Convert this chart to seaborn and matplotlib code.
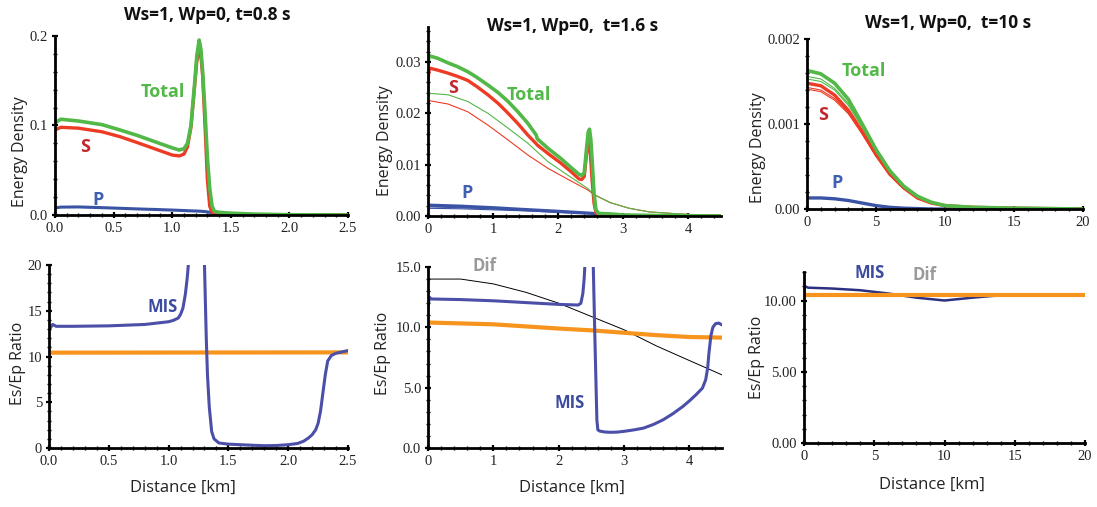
import numpy as np
import pandas as pd
import matplotlib
matplotlib.use("Agg")
import matplotlib.pyplot as plt
from matplotlib.ticker import FixedLocator, MultipleLocator, FormatStrFormatter
import seaborn as sns

# ---------------- data ----------------
# t = 0.8 s energy density
t08_x = [0, 0.05, 0.2, 0.4, 0.555, 0.7, 0.85, 1.0, 1.06, 1.1, 1.13, 1.16, 1.19, 1.21,
         1.23, 1.245, 1.26, 1.28, 1.30, 1.32, 1.34, 1.36, 1.4, 1.5, 1.7, 2.0, 2.5]
t08_total = [0.103, 0.107, 0.105, 0.101, 0.095, 0.089, 0.082, 0.075, 0.0726, 0.074,
             0.080, 0.100, 0.145, 0.178, 0.1955, 0.185, 0.160, 0.115, 0.065, 0.030,
             0.010, 0.004, 0.003, 0.002, 0.001, 0.0003, 0.0]
t08_s = [0.095, 0.098, 0.097, 0.093, 0.0875, 0.081, 0.074, 0.067, 0.066, 0.068,
         0.076, 0.098, 0.142, 0.172, 0.183, 0.178, 0.155, 0.100, 0.040, 0.010,
         0.003, 0.001, 0.0005, 0.0, 0.0, 0.0, 0.0]
t08_p = [0.008, 0.0088, 0.009, 0.0082, 0.0075, 0.0068, 0.0062, 0.0055, 0.0052, 0.005,
         0.0048, 0.0046, 0.0045, 0.0044, 0.0043, 0.0042, 0.004, 0.0038, 0.0035, 0.003,
         0.0025, 0.002, 0.0016, 0.0008, 0.0003, 0.0001, 0.0]

# t = 1.6 s energy density
t16_x = [0, 0.02, 0.15, 0.31, 0.45, 0.61, 0.75, 0.92, 1.08, 1.23, 1.38, 1.53, 1.66,
         1.68, 1.85, 2.04, 2.2, 2.32, 2.36, 2.40, 2.43, 2.46, 2.48, 2.50, 2.52, 2.55,
         2.58, 2.62, 2.8, 3.0, 3.5, 4.0, 4.5]
t16_total = [0.0300, 0.0312, 0.0307, 0.0298, 0.0291, 0.0281, 0.0270, 0.0255, 0.0240,
             0.0223, 0.0203, 0.0181, 0.0158, 0.0150, 0.0131, 0.0112, 0.0094, 0.0081,
             0.0079, 0.0084, 0.0125, 0.0163, 0.0169, 0.0150, 0.0110, 0.0044, 0.0012,
             0.0005, 0.0004, 0.0002, 0.0001, 0.00005, 0.0]
t16_s = [0.0265, 0.0288, 0.0284, 0.0278, 0.0272, 0.0264, 0.0252, 0.0236, 0.0219,
         0.0200, 0.0180, 0.0158, 0.0141, 0.0138, 0.0121, 0.0103, 0.0086, 0.0072,
         0.0071, 0.0077, 0.0115, 0.0146, 0.0146, 0.0109, 0.0070, 0.0025, 0.0006,
         0.0002, 0.0, 0.0, 0.0, 0.0, 0.0]
t16_thin_x = [0, 0.31, 0.61, 0.92, 1.23, 1.53, 1.84, 2.14, 2.45, 2.56, 2.8, 3.09,
              3.4, 3.86, 4.2, 4.5]
t16_total_thin = [0.0239, 0.0236, 0.0223, 0.0200, 0.0171, 0.0142, 0.0106, 0.0080,
                  0.0054, 0.0041, 0.0026, 0.0015, 0.0008, 0.0004, 0.0002, 0.0001]
t16_s_thin = [0.0225, 0.0218, 0.0203, 0.0177, 0.0148, 0.0119, 0.0093, 0.0072,
              0.0051, 0.0041, 0.0026, 0.0015, 0.0008, 0.0004, 0.0002, 0.0001]
t16_p_x = [0, 0.5, 1.0, 1.41, 2.0, 2.53, 2.6, 2.65]
t16_p = [0.0021, 0.0019, 0.0016, 0.0013, 0.0009, 0.0005, 0.0002, 0.0]
t16_pthin_x = [0, 0.5, 1, 1.5, 2, 2.5, 3, 3.5, 4, 4.5]
t16_p_thin1 = [0.0018, 0.0016, 0.0014, 0.0011, 0.0008, 0.0005, 0.0003, 0.0002, 0.0001, 0.00005]
t16_p_thin2 = [0.0015, 0.0014, 0.0012, 0.0010, 0.0007, 0.0005, 0.0003, 0.0002, 0.0001, 0.00005]

# t = 10 s energy density
t10_x = [0, 1, 2, 3, 4, 5, 6, 7, 8, 9, 10, 12, 15, 20]
t10_total = [0.00163, 0.00159, 0.00148, 0.00129, 0.00100, 0.00070, 0.00045, 0.00027,
             0.00015, 0.00008, 0.00004, 0.00002, 0.00001, 0.0]
t10_s = [0.00148, 0.00145, 0.00134, 0.00116, 0.00091, 0.00064, 0.00041, 0.00025,
         0.00013, 0.00007, 0.00004, 0.00002, 0.00001, 0.0]
t10_total_thin1 = [0.00156, 0.00153, 0.00142, 0.00124, 0.00097, 0.00069, 0.00044,
                   0.00027, 0.00015, 0.00008, 0.00004, 0.00002, 0.00001, 0.0]
t10_total_thin2 = [0.00153, 0.00150, 0.00140, 0.00122, 0.00096, 0.00068, 0.00044,
                   0.00027, 0.00015, 0.00008, 0.00004, 0.00002, 0.00001, 0.0]
t10_s_thin1 = [0.00143, 0.00140, 0.00130, 0.00113, 0.00089, 0.00063, 0.00040,
               0.00024, 0.00013, 0.00007, 0.00004, 0.00002, 0.00001, 0.0]
t10_s_thin2 = [0.00141, 0.00138, 0.00128, 0.00112, 0.00088, 0.00062, 0.00040,
               0.00024, 0.00013, 0.00007, 0.00004, 0.00002, 0.00001, 0.0]
t10_p = [0.00013, 0.00013, 0.00012, 0.00010, 0.00007, 0.00004, 0.00002, 0.00001,
         0.000005, 0.0, 0.0, 0.0, 0.0, 0.0]

# ratio t = 0.8 s
r08_mis1_x = [0, 0.01, 0.03, 0.06, 0.2, 0.5, 0.8, 1.0, 1.04, 1.08, 1.1, 1.12, 1.14,
              1.155, 1.165, 1.175]
r08_mis1 = [12.9, 13.1, 13.5, 13.3, 13.3, 13.35, 13.5, 13.8, 13.95, 14.2, 14.6, 15.3,
            16.8, 18.5, 20.0, 22.0]
r08_mis2_x = [1.295, 1.30, 1.315, 1.325, 1.34, 1.36, 1.38, 1.42, 1.5, 1.6, 1.7, 1.8,
              1.9, 2.0, 2.08, 2.13, 2.17, 2.2, 2.23, 2.25, 2.27, 2.29, 2.31, 2.33,
              2.36, 2.4, 2.45, 2.5]
r08_mis2 = [23.0, 20.0, 12.0, 8.0, 4.5, 1.8, 1.0, 0.55, 0.42, 0.36, 0.3, 0.25, 0.27,
            0.36, 0.5, 0.75, 1.1, 1.45, 2.0, 2.7, 4.0, 6.0, 8.0, 9.5, 10.1, 10.36,
            10.5, 10.65]
r08_orange_x = [0, 2.5]
r08_orange = [10.42, 10.45]

# ratio t = 1.6 s
r16_dif_x = [0, 0.5, 1.0, 1.5, 2.0, 2.5, 3.0, 3.5, 4.0, 4.5]
r16_dif = [14.0, 14.0, 13.6, 12.9, 12.0, 10.9, 9.8, 8.45, 7.25, 6.06]
r16_mis1_x = [0, 0.02, 0.05, 0.5, 1.0, 1.5, 2.0, 2.3, 2.34, 2.37, 2.39, 2.4, 2.42]
r16_mis1 = [11.6, 12.5, 12.35, 12.3, 12.2, 12.05, 11.9, 11.85, 12.0, 12.8, 14.0, 15.0, 17.0]
r16_mis2_x = [2.52, 2.53, 2.555, 2.585, 2.6, 2.63, 2.7, 2.8, 2.9, 3.0, 3.15, 3.3,
              3.45, 3.6, 3.75, 3.9, 4.0, 4.1, 4.2, 4.25, 4.28, 4.3, 4.33, 4.36,
              4.4, 4.45, 4.5]
r16_mis2 = [17.0, 15.0, 9.0, 2.3, 1.5, 1.4, 1.33, 1.3, 1.32, 1.38, 1.5, 1.65, 1.95,
            2.34, 2.85, 3.44, 3.9, 4.4, 4.96, 5.65, 6.6, 7.85, 9.3, 10.0, 10.3,
            10.35, 10.2]
r16_orange_x = [0, 1, 2, 2.5, 3, 3.5, 4, 4.5]
r16_orange = [10.4, 10.25, 9.9, 9.75, 9.55, 9.35, 9.2, 9.15]

# ratio t = 10 s
r10_mis_x = [0, 0.05, 0.3, 2, 4, 6, 8, 10, 12, 14, 16, 18, 20]
r10_mis = [9.0, 11.0, 10.9, 10.84, 10.72, 10.49, 10.2, 10.0, 10.2, 10.37, 10.42, 10.42, 10.42]
r10_orange_x = [0, 20]
r10_orange = [10.42, 10.42]

titles = ["Ws=1, Wp=0, t=0.8 s", "Ws=1, Wp=0,  t=1.6 s", "Ws=1, Wp=0,  t=10 s"]

# ---------------- style ----------------
sns.set_theme(style="white")
plt.rcParams["font.family"] = ["Open Sans", "DejaVu Sans"]

GREEN = "#52b847"
RED = "#ee3b24"
BLUE = "#3a53a4"
MISC = "#4b4fa8"
ORANGE = "#f7941d"
NAVY = "#2b3180"
S_LAB = "#c1272d"
P_LAB = "#3f5fb0"
MIS_LAB = "#3b4ba0"
DIF_LAB = "#9a9a9a"

W, H = 1097, 507
fig = plt.figure(figsize=(W / 100, H / 100), dpi=100)


def rect(l, r, t, b):
    return [l / W, 1 - b / H, (r - l) / W, (b - t) / H]


def line(ax, x, y, color, lw):
    sns.lineplot(x=x, y=y, ax=ax, color=color, linewidth=lw, estimator=None,
                 sort=False, legend=False)


def style(ax, xlim, ylim, xmaj, xmin, yticks, ylabels, xfmt, ymin_loc=None):
    ax.set_xlim(*xlim)
    ax.set_ylim(*ylim)
    for s in ["top", "right"]:
        ax.spines[s].set_visible(False)
    for s in ["left", "bottom"]:
        ax.spines[s].set_color("black")
        ax.spines[s].set_linewidth(2.0)
    ax.xaxis.set_major_locator(MultipleLocator(xmaj))
    ax.xaxis.set_minor_locator(MultipleLocator(xmin))
    ax.xaxis.set_major_formatter(FormatStrFormatter(xfmt))
    ax.yaxis.set_major_locator(FixedLocator(yticks))
    ax.set_yticklabels(ylabels)
    if ymin_loc:
        ax.yaxis.set_minor_locator(MultipleLocator(ymin_loc))
    ax.tick_params(axis="both", which="major", direction="inout", length=4, width=1.6,
                   color="black", labelsize=10.5, pad=3, bottom=True, left=True)
    ax.tick_params(axis="both", which="minor", direction="inout", length=2.5, width=1.0,
                   color="black", bottom=True, left=True)
    for lab in ax.get_xticklabels() + ax.get_yticklabels():
        lab.set_fontfamily("Liberation Serif")
        lab.set_color("#222222")
    ax.set_xlabel("")
    ax.set_ylabel("")
    ax.set_facecolor("white")


def label(ax, x, y, txt, color, size=13):
    ax.text(x, y, txt, color=color, fontsize=size, fontweight="bold",
            ha="center", va="center")


def ftext(x, y, txt, **kw):
    fig.text(x / W, 1 - y / H, txt, **kw)


# ---- panel 1 ----
ax1 = fig.add_axes(rect(55, 348, 36, 215))
line(ax1, t08_x, t08_p, BLUE, 2.2)
line(ax1, t08_x, t08_s, RED, 2.4)
line(ax1, t08_x, t08_total, GREEN, 2.6)
style(ax1, (0, 2.5), (0, 0.2), 0.5, 0.1, [0, 0.1, 0.2], ["0.0", "0.1", "0.2"], "%.1f", 0.02)
label(ax1, 0.92, 0.137, "Total", GREEN)
label(ax1, 0.26, 0.076, "S", S_LAB)
label(ax1, 0.37, 0.017, "P", P_LAB)

# ---- panel 2 ----
ax2 = fig.add_axes(rect(428, 721, 27, 216))
line(ax2, t16_pthin_x, t16_p_thin1, BLUE, 0.8)
line(ax2, t16_pthin_x, t16_p_thin2, BLUE, 0.8)
line(ax2, t16_p_x, t16_p, BLUE, 2.4)
line(ax2, t16_thin_x, t16_s_thin, RED, 0.8)
line(ax2, t16_thin_x, t16_total_thin, GREEN, 0.8)
line(ax2, t16_x, t16_s, RED, 2.4)
line(ax2, t16_x, t16_total, GREEN, 2.6)
style(ax2, (0, 4.5), (0, 0.0368), 1, 0.2, [0, 0.01, 0.02, 0.03],
      ["0.00", "0.01", "0.02", "0.03"], "%d", 0.002)
label(ax2, 0.38, 0.0249, "S", S_LAB)
label(ax2, 1.55, 0.0236, "Total", GREEN)
label(ax2, 0.6, 0.0045, "P", P_LAB)

# ---- panel 3 ----
ax3 = fig.add_axes(rect(807, 1083, 39, 209))
line(ax3, t10_x, t10_p, BLUE, 2.4)
line(ax3, t10_x, t10_s_thin1, RED, 0.8)
line(ax3, t10_x, t10_s_thin2, RED, 0.8)
line(ax3, t10_x, t10_total_thin1, GREEN, 0.8)
line(ax3, t10_x, t10_total_thin2, GREEN, 0.8)
line(ax3, t10_x, t10_s, RED, 2.4)
line(ax3, t10_x, t10_total, GREEN, 2.6)
style(ax3, (0, 20), (0, 0.002), 5, 1, [0, 0.001, 0.002], ["0.00", "0.001", "0.002"],
      "%d", 0.0002)
label(ax3, 4.1, 0.00162, "Total", GREEN)
label(ax3, 1.16, 0.00110, "S", S_LAB)
label(ax3, 2.2, 0.00031, "P", P_LAB)

# ---- panel 4 ----
ax4 = fig.add_axes(rect(49, 348, 265, 448))
line(ax4, r08_orange_x, r08_orange, ORANGE, 3.0)
line(ax4, r08_mis1_x, r08_mis1, MISC, 2.2)
line(ax4, r08_mis2_x, r08_mis2, MISC, 2.2)
style(ax4, (0, 2.5), (0, 20), 0.5, 0.1, [0, 5, 10, 15, 20], ["0", "5", "10", "15", "20"],
      "%.1f", 1)
label(ax4, 0.95, 15.4, "MIS", MIS_LAB, 12)

# ---- panel 5 ----
ax5 = fig.add_axes(rect(428, 722, 267, 448))
line(ax5, r16_dif_x, r16_dif, "black", 0.7)
line(ax5, r16_orange_x, r16_orange, ORANGE, 3.0)
line(ax5, r16_mis1_x, r16_mis1, MISC, 2.2)
line(ax5, r16_mis2_x, r16_mis2, MISC, 2.2)
style(ax5, (0, 4.5), (0, 15), 1, 0.2, [0, 5, 10, 15], ["0.0", "5.0", "10.0", "15.0"],
      "%d", 1)
label(ax5, 0.87, 15.1, "Dif", DIF_LAB, 12)
label(ax5, 2.17, 3.7, "MIS", MIS_LAB, 12)

# ---- panel 6 ----
ax6 = fig.add_axes(rect(804, 1085, 272, 443))
line(ax6, r10_mis_x, r10_mis, NAVY, 1.8)
line(ax6, r10_orange_x, r10_orange, ORANGE, 3.0)
style(ax6, (0, 20), (0, 12), 5, 1, [0, 5, 10], ["0.00", "5.00", "10.00"], "%d", 1)
label(ax6, 4.7, 11.9, "MIS", MIS_LAB, 12)
label(ax6, 8.6, 11.8, "Dif", DIF_LAB, 12)

# ---- titles and axis labels ----
for (xc, yc), t in zip([(207, 15), (573, 26), (948, 23)], titles):
    ftext(xc, yc, t, ha="center", va="center", fontsize=12.5, fontweight="bold",
          color="#111111")
for xc, yc in [(20, 152), (385, 141), (758, 148)]:
    ftext(xc, yc, "Energy Density", rotation=90, ha="center", va="center",
          fontsize=11.5, color="#222222")
for xc, yc in [(18, 363), (383, 353), (757, 357)]:
    ftext(xc, yc, "Es/Ep Ratio", rotation=90, ha="center", va="center",
          fontsize=11.5, color="#222222")
for xc, yc in [(183, 488), (572, 488), (932, 485)]:
    ftext(xc, yc, "Distance [km]", ha="center", va="center", fontsize=12,
          color="#222222")

fig.savefig("out.png", dpi=100, facecolor="white")
